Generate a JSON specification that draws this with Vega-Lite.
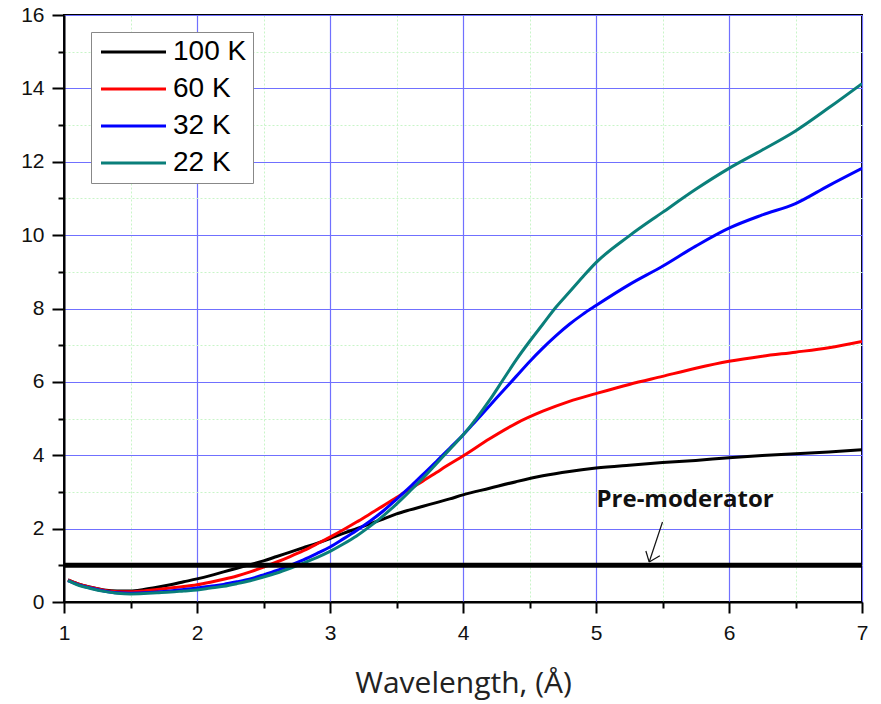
{
  "$schema": "https://vega.github.io/schema/vega-lite/v6.json",
  "width": 798,
  "height": 587,
  "autosize": "none",
  "padding": {"left": 64, "top": 15, "right": 19, "bottom": 102},
  "background": "white",
  "config": {
    "view": {"stroke": "black", "strokeWidth": 2},
    "axis": {"domainColor": "black", "domainWidth": 2, "tickColor": "black", "tickWidth": 2, "labelFont": "Liberation Sans", "labelFontSize": 21, "labelColor": "#111", "labelFlush": false, "labelOverlap": false}
  },
  "datasets": {
    "curves": [
      {"T":"100 K","x":1.03,"y":0.6},{"T":"100 K","x":1.1,"y":0.5},{"T":"100 K","x":1.2,"y":0.4},{"T":"100 K","x":1.3,"y":0.33},{"T":"100 K","x":1.4,"y":0.3},{"T":"100 K","x":1.5,"y":0.3},{"T":"100 K","x":1.6,"y":0.34},{"T":"100 K","x":1.7,"y":0.4},{"T":"100 K","x":1.8,"y":0.47},{"T":"100 K","x":1.9,"y":0.55},{"T":"100 K","x":2.0,"y":0.63},{"T":"100 K","x":2.1,"y":0.72},{"T":"100 K","x":2.2,"y":0.82},{"T":"100 K","x":2.3,"y":0.92},{"T":"100 K","x":2.4,"y":1.02},{"T":"100 K","x":2.5,"y":1.12},{"T":"100 K","x":2.6,"y":1.24},{"T":"100 K","x":2.7,"y":1.36},{"T":"100 K","x":2.8,"y":1.48},{"T":"100 K","x":2.9,"y":1.6},{"T":"100 K","x":3.0,"y":1.73},{"T":"100 K","x":3.1,"y":1.87},{"T":"100 K","x":3.2,"y":2.0},{"T":"100 K","x":3.3,"y":2.13},{"T":"100 K","x":3.4,"y":2.26},{"T":"100 K","x":3.5,"y":2.4},{"T":"100 K","x":3.6,"y":2.51},{"T":"100 K","x":3.7,"y":2.61},{"T":"100 K","x":3.8,"y":2.71},{"T":"100 K","x":3.9,"y":2.81},{"T":"100 K","x":4.0,"y":2.92},{"T":"100 K","x":4.2,"y":3.1},{"T":"100 K","x":4.4,"y":3.28},{"T":"100 K","x":4.6,"y":3.44},{"T":"100 K","x":4.8,"y":3.56},{"T":"100 K","x":5.0,"y":3.65},{"T":"100 K","x":5.25,"y":3.73},{"T":"100 K","x":5.5,"y":3.8},{"T":"100 K","x":5.75,"y":3.86},{"T":"100 K","x":6.0,"y":3.93},{"T":"100 K","x":6.25,"y":3.99},{"T":"100 K","x":6.5,"y":4.04},{"T":"100 K","x":6.75,"y":4.09},{"T":"100 K","x":7.0,"y":4.15},
      {"T":"60 K","x":1.03,"y":0.6},{"T":"60 K","x":1.1,"y":0.5},{"T":"60 K","x":1.2,"y":0.4},{"T":"60 K","x":1.3,"y":0.32},{"T":"60 K","x":1.4,"y":0.28},{"T":"60 K","x":1.5,"y":0.28},{"T":"60 K","x":1.6,"y":0.3},{"T":"60 K","x":1.7,"y":0.34},{"T":"60 K","x":1.8,"y":0.38},{"T":"60 K","x":1.9,"y":0.42},{"T":"60 K","x":2.0,"y":0.47},{"T":"60 K","x":2.1,"y":0.54},{"T":"60 K","x":2.2,"y":0.62},{"T":"60 K","x":2.3,"y":0.71},{"T":"60 K","x":2.4,"y":0.82},{"T":"60 K","x":2.5,"y":0.95},{"T":"60 K","x":2.6,"y":1.09},{"T":"60 K","x":2.7,"y":1.24},{"T":"60 K","x":2.8,"y":1.4},{"T":"60 K","x":2.9,"y":1.58},{"T":"60 K","x":3.0,"y":1.77},{"T":"60 K","x":3.1,"y":1.97},{"T":"60 K","x":3.2,"y":2.18},{"T":"60 K","x":3.3,"y":2.4},{"T":"60 K","x":3.4,"y":2.62},{"T":"60 K","x":3.5,"y":2.85},{"T":"60 K","x":3.6,"y":3.08},{"T":"60 K","x":3.7,"y":3.3},{"T":"60 K","x":3.8,"y":3.53},{"T":"60 K","x":3.9,"y":3.76},{"T":"60 K","x":4.0,"y":3.98},{"T":"60 K","x":4.2,"y":4.45},{"T":"60 K","x":4.4,"y":4.87},{"T":"60 K","x":4.6,"y":5.2},{"T":"60 K","x":4.8,"y":5.47},{"T":"60 K","x":5.0,"y":5.68},{"T":"60 K","x":5.25,"y":5.93},{"T":"60 K","x":5.5,"y":6.15},{"T":"60 K","x":5.75,"y":6.37},{"T":"60 K","x":6.0,"y":6.56},{"T":"60 K","x":6.25,"y":6.7},{"T":"60 K","x":6.5,"y":6.81},{"T":"60 K","x":6.75,"y":6.93},{"T":"60 K","x":7.0,"y":7.1},
      {"T":"32 K","x":1.03,"y":0.58},{"T":"32 K","x":1.1,"y":0.48},{"T":"32 K","x":1.2,"y":0.38},{"T":"32 K","x":1.3,"y":0.3},{"T":"32 K","x":1.4,"y":0.25},{"T":"32 K","x":1.5,"y":0.24},{"T":"32 K","x":1.6,"y":0.25},{"T":"32 K","x":1.7,"y":0.27},{"T":"32 K","x":1.8,"y":0.3},{"T":"32 K","x":1.9,"y":0.34},{"T":"32 K","x":2.0,"y":0.38},{"T":"32 K","x":2.1,"y":0.43},{"T":"32 K","x":2.2,"y":0.48},{"T":"32 K","x":2.3,"y":0.55},{"T":"32 K","x":2.4,"y":0.63},{"T":"32 K","x":2.5,"y":0.74},{"T":"32 K","x":2.6,"y":0.86},{"T":"32 K","x":2.7,"y":1.0},{"T":"32 K","x":2.8,"y":1.15},{"T":"32 K","x":2.9,"y":1.32},{"T":"32 K","x":3.0,"y":1.5},{"T":"32 K","x":3.1,"y":1.72},{"T":"32 K","x":3.2,"y":1.95},{"T":"32 K","x":3.3,"y":2.2},{"T":"32 K","x":3.4,"y":2.48},{"T":"32 K","x":3.5,"y":2.8},{"T":"32 K","x":3.6,"y":3.13},{"T":"32 K","x":3.7,"y":3.48},{"T":"32 K","x":3.8,"y":3.83},{"T":"32 K","x":3.9,"y":4.19},{"T":"32 K","x":4.0,"y":4.55},{"T":"32 K","x":4.1,"y":4.95},{"T":"32 K","x":4.2,"y":5.35},{"T":"32 K","x":4.3,"y":5.75},{"T":"32 K","x":4.4,"y":6.15},{"T":"32 K","x":4.5,"y":6.55},{"T":"32 K","x":4.6,"y":6.92},{"T":"32 K","x":4.7,"y":7.26},{"T":"32 K","x":4.8,"y":7.57},{"T":"32 K","x":4.9,"y":7.84},{"T":"32 K","x":5.0,"y":8.08},{"T":"32 K","x":5.25,"y":8.65},{"T":"32 K","x":5.5,"y":9.15},{"T":"32 K","x":5.75,"y":9.7},{"T":"32 K","x":6.0,"y":10.19},{"T":"32 K","x":6.25,"y":10.55},{"T":"32 K","x":6.5,"y":10.86},{"T":"32 K","x":6.75,"y":11.35},{"T":"32 K","x":7.0,"y":11.82},
      {"T":"22 K","x":1.03,"y":0.58},{"T":"22 K","x":1.1,"y":0.47},{"T":"22 K","x":1.2,"y":0.37},{"T":"22 K","x":1.3,"y":0.29},{"T":"22 K","x":1.4,"y":0.24},{"T":"22 K","x":1.5,"y":0.22},{"T":"22 K","x":1.6,"y":0.23},{"T":"22 K","x":1.7,"y":0.25},{"T":"22 K","x":1.8,"y":0.27},{"T":"22 K","x":1.9,"y":0.3},{"T":"22 K","x":2.0,"y":0.33},{"T":"22 K","x":2.1,"y":0.38},{"T":"22 K","x":2.2,"y":0.43},{"T":"22 K","x":2.3,"y":0.5},{"T":"22 K","x":2.4,"y":0.58},{"T":"22 K","x":2.5,"y":0.68},{"T":"22 K","x":2.6,"y":0.79},{"T":"22 K","x":2.7,"y":0.92},{"T":"22 K","x":2.8,"y":1.06},{"T":"22 K","x":2.9,"y":1.21},{"T":"22 K","x":3.0,"y":1.38},{"T":"22 K","x":3.1,"y":1.58},{"T":"22 K","x":3.2,"y":1.8},{"T":"22 K","x":3.3,"y":2.06},{"T":"22 K","x":3.4,"y":2.35},{"T":"22 K","x":3.5,"y":2.67},{"T":"22 K","x":3.6,"y":3.02},{"T":"22 K","x":3.7,"y":3.38},{"T":"22 K","x":3.8,"y":3.77},{"T":"22 K","x":3.9,"y":4.16},{"T":"22 K","x":4.0,"y":4.55},{"T":"22 K","x":4.1,"y":5.0},{"T":"22 K","x":4.2,"y":5.5},{"T":"22 K","x":4.3,"y":6.05},{"T":"22 K","x":4.4,"y":6.6},{"T":"22 K","x":4.5,"y":7.1},{"T":"22 K","x":4.6,"y":7.57},{"T":"22 K","x":4.7,"y":8.04},{"T":"22 K","x":4.8,"y":8.45},{"T":"22 K","x":4.9,"y":8.86},{"T":"22 K","x":5.0,"y":9.25},{"T":"22 K","x":5.25,"y":9.98},{"T":"22 K","x":5.5,"y":10.62},{"T":"22 K","x":5.75,"y":11.25},{"T":"22 K","x":6.0,"y":11.82},{"T":"22 K","x":6.25,"y":12.32},{"T":"22 K","x":6.5,"y":12.84},{"T":"22 K","x":6.75,"y":13.47},{"T":"22 K","x":7.0,"y":14.13}
    ]
  },
  "layer": [
    {
      "data": {"name": "curves"},
      "mark": {"type": "line", "strokeWidth": 3, "clip": true, "interpolate": "monotone"},
      "encoding": {
        "x": {"field": "x", "type": "quantitative", "scale": {"domain": [1, 7], "nice": false, "zero": false},
          "axis": {"orient": "bottom", "values": [1,2,3,4,5,6,7], "format": "d", "grid": true, "gridColor": "#7070ff", "gridWidth": 1.2, "tickSize": 11, "labelPadding": 9, "title": "Wavelength, (Å)", "titleFont": "Open Sans", "titleFontSize": 30, "titleFontWeight": "normal", "titleColor": "#222", "titlePadding": 25}},
        "y": {"field": "y", "type": "quantitative", "scale": {"domain": [0, 16], "nice": false, "zero": false},
          "axis": {"orient": "left", "values": [0,2,4,6,8,10,12,14,16], "format": "d", "grid": true, "gridColor": "#7070ff", "gridWidth": 1.2, "tickSize": 12, "labelPadding": 8, "title": null}},
        "color": {"field": "T", "type": "nominal",
          "scale": {"domain": ["100 K", "60 K", "32 K", "22 K"], "range": ["#000000", "#ff0000", "#0000ff", "#0a7f7a"]},
          "legend": {"orient": "none", "legendX": 27, "legendY": 17, "title": null, "symbolType": "M-1,0H5.5", "symbolSize": 400, "symbolStrokeWidth": 3, "symbolFillColor": "transparent", "labelFontSize": 28, "labelFont": "Liberation Sans", "labelColor": "#000", "padding": 6, "strokeColor": "#888888", "fillColor": "white", "labelOffset": 48, "rowPadding": 9}}
      }
    },
    {
      "data": {"values": [{"x": 1, "x2": 7, "y": 1}]},
      "mark": {"type": "rule", "strokeWidth": 5, "color": "black"},
      "encoding": {
        "x": {"field": "x", "type": "quantitative", "scale": {"domain": [1, 7], "nice": false, "zero": false},
          "axis": {"orient": "bottom", "values": [1.5,2.5,3.5,4.5,5.5,6.5], "labels": false, "domain": false, "grid": true, "gridColor": "#c8f5c8", "gridDash": [2, 2], "gridWidth": 1, "tickSize": 6, "title": null}},
        "x2": {"field": "x2"},
        "y": {"field": "y", "type": "quantitative", "scale": {"domain": [0, 16], "nice": false, "zero": false},
          "axis": {"orient": "left", "values": [1,3,5,7,9,11,13,15], "labels": false, "domain": false, "grid": true, "gridColor": "#c8f5c8", "gridDash": [2, 2], "gridWidth": 1, "tickSize": 6, "title": null}}
      }
    },
    {
      "data": {"values": [
        {"x": 5.5, "y": 2.18, "x2": 5.40, "y2": 1.09},
        {"x": 5.40, "y": 1.09, "x2": 5.375, "y2": 1.39},
        {"x": 5.40, "y": 1.09, "x2": 5.48, "y2": 1.26}
      ]},
      "mark": {"type": "rule", "strokeWidth": 1.2, "color": "#111"},
      "encoding": {
        "x": {"field": "x", "type": "quantitative", "axis": null},
        "y": {"field": "y", "type": "quantitative", "axis": null},
        "x2": {"field": "x2"},
        "y2": {"field": "y2"}
      }
    },
    {
      "data": {"values": [{"x": 5.67, "y": 2.78, "label": "Pre-moderator"}]},
      "mark": {"type": "text", "font": "Open Sans", "fontWeight": "bold", "fontSize": 24, "baseline": "middle", "align": "center", "color": "#111"},
      "encoding": {
        "x": {"field": "x", "type": "quantitative", "axis": null},
        "y": {"field": "y", "type": "quantitative", "axis": null},
        "text": {"field": "label"}
      }
    }
  ],
  "resolve": {"axis": {"x": "independent", "y": "independent"}}
}
